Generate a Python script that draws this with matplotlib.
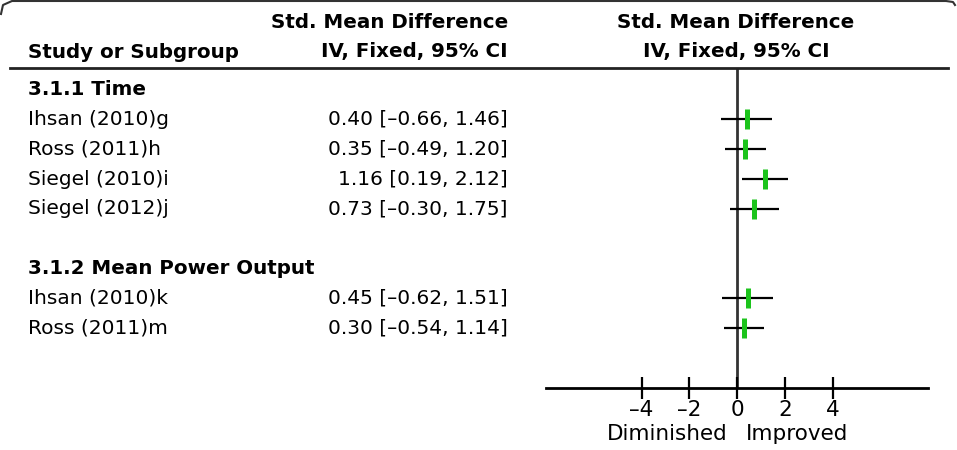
"""Forest plot: standardised mean difference, fixed effect, by subgroup."""
import matplotlib.pyplot as plt
from matplotlib.lines import Line2D
from matplotlib.transforms import blended_transform_factory

# rows from top to bottom; None = subgroup header / blank row
labels = ["3.1.1 Time", "Ihsan (2010)g", "Ross (2011)h", "Siegel (2010)i",
          "Siegel (2012)j", "", "3.1.2 Mean Power Output", "Ihsan (2010)k",
          "Ross (2011)m"]
is_header = [True, False, False, False, False, False, True, False, False]
smd = [None, 0.40, 0.35, 1.16, 0.73, None, None, 0.45, 0.30]
ci_low = [None, -0.66, -0.49, 0.19, -0.30, None, None, -0.62, -0.54]
ci_high = [None, 1.46, 1.20, 2.12, 1.75, None, None, 1.51, 1.14]
ticks = [-4, -2, 0, 2, 4]

W, H = 957, 450
fig = plt.figure(figsize=(W / 100, H / 100), dpi=100)
plt.rcParams["font.family"] = "DejaVu Sans"


def fx(px):
    return px / W


def fy(py):
    return 1 - py / H


# forest panel: spans from header rule (y=68) down to axis (y=388)
ax = fig.add_axes([fx(546), fy(388), fx(928) - fx(546), fy(68) - fy(388)])
ax.set_xlim(-8, 8)
ax.set_ylim(10, -0.72)
for s in ("top", "left", "right"):
    ax.spines[s].set_visible(False)
ax.spines["bottom"].set_linewidth(2)
ax.set_yticks([])
ax.set_xticks(ticks)
ax.set_xticklabels([f"\u2013{abs(t)}" if t < 0 else str(t) for t in ticks], fontsize=15.5)
ax.tick_params(axis="x", direction="inout", length=16, width=1.6, pad=1)
ax.axvline(0, color="#333333", lw=2, zorder=1)

green = "#1cc41c"
for i, (m, lo, hi) in enumerate(zip(smd, ci_low, ci_high)):
    if m is None:
        continue
    ax.plot([lo, hi], [i, i], color="black", lw=1.6, solid_capstyle="butt", zorder=2)
    ax.plot([m], [i], marker="|", ms=15, mew=3.6, color=green, zorder=3)

# text columns: x in figure pixels, y in row units
tr = blended_transform_factory(fig.transFigure, ax.transData)
fs = 14.5
fsb = 14.3
for i, lab in enumerate(labels):
    if not lab:
        continue
    ax.text(fx(28), i, lab, transform=tr, fontsize=fsb if is_header[i] else fs,
            va="center", ha="left",
            fontweight="bold" if is_header[i] else "normal", clip_on=False)
    if smd[i] is not None:
        txt = f"{smd[i]:.2f} [{ci_low[i]:.2f}, {ci_high[i]:.2f}]".replace("-", "\u2013")
        ax.text(fx(508), i, txt, transform=tr, fontsize=fs, va="center", ha="right",
                clip_on=False)

# column headers
fig.text(fx(28), fy(52), "Study or Subgroup", fontsize=fsb, fontweight="bold", va="center")
fig.text(fx(508), fy(22), "Std. Mean Difference", fontsize=fsb, fontweight="bold",
         va="center", ha="right")
fig.text(fx(508), fy(52), "IV, Fixed, 95% CI", fontsize=fsb, fontweight="bold",
         va="center", ha="right")
fig.text(fx(736), fy(22), "Std. Mean Difference", fontsize=fsb, fontweight="bold",
         va="center", ha="center")
fig.text(fx(736), fy(52), "IV, Fixed, 95% CI", fontsize=fsb, fontweight="bold",
         va="center", ha="center")

# favours labels under the axis
fig.text(fx(728), fy(434), "Diminished", fontsize=15.5, va="center", ha="right")
fig.text(fx(746), fy(434), "Improved", fontsize=15.5, va="center", ha="left")

# header rule and frame top edge
fig.add_artist(Line2D([fx(10), fx(948)], [fy(68), fy(68)], color="#222222", lw=2))
fig.add_artist(Line2D([fx(1), fx(3), fx(12), fx(946), fx(953), fx(955)],
                      [fy(14), fy(5), fy(1), fy(1), fy(2), fy(5)],
                      color="#333333", lw=1.5))

fig.savefig("out.png", dpi=100)
